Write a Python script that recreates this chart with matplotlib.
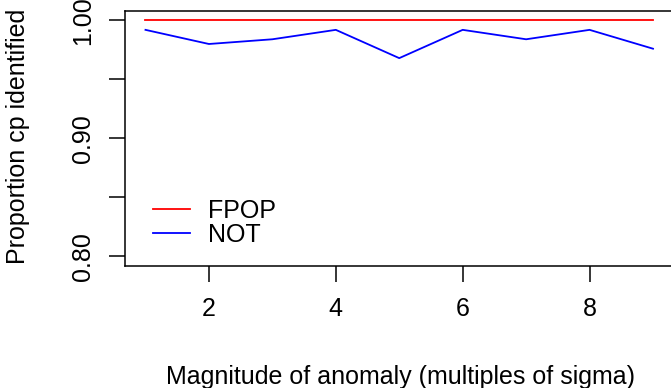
import matplotlib
matplotlib.use("Agg")
import matplotlib.pyplot as plt

magnitude = [1, 2, 3, 4, 5, 6, 7, 8, 9]
fpop = [1.0, 1.0, 1.0, 1.0, 1.0, 1.0, 1.0, 1.0, 1.0]
not_vals = [0.992, 0.980, 0.984, 0.992, 0.968, 0.992, 0.984, 0.992, 0.976]
xticks = [2, 4, 6, 8]
yticks = [0.80, 0.85, 0.90, 0.95, 1.00]
ytick_labels = ["0.80", "", "0.90", "", "1.00"]

plt.rcParams['font.family'] = ['Liberation Sans', 'DejaVu Sans']

W, H = 671, 388
fig = plt.figure(figsize=(W/100, H/100), dpi=100)
left, right, top, bottom = 125, 673.5, 11, 265.5
ax = fig.add_axes([left/W, 1-bottom/H, (right-left)/W, (bottom-top)/H])

ax.plot(magnitude, fpop, color="#FF0000", lw=1.3, label="FPOP")
ax.plot(magnitude, not_vals, color="#0000FF", lw=1.3, label="NOT")

ax.set_xlim(0.677, 9.323)
ax.set_ylim(0.792, 1.008)
ax.set_xticks(xticks)
ax.set_xticklabels([str(t) for t in xticks])
ax.set_yticks(yticks)
ax.set_yticklabels(ytick_labels, rotation=90, va="center")
ax.tick_params(axis="both", labelsize=18, length=11.5, width=1.1, color="black")
ax.tick_params(axis="y", pad=10)
ax.tick_params(axis="x", pad=11.5)
for s in ax.spines.values():
    s.set_linewidth(1.1)
    s.set_color("black")

fig.text(18/W, 1-136/H, "Proportion cp identified", rotation=90, ha="center", va="center", fontsize=18)
fig.text(400/W, 1-384/H, "Magnitude of anomaly (multiples of sigma)", ha="center", va="baseline", fontsize=18)

leg = ax.legend(loc="center left", bbox_to_anchor=(153/W, 1-223/H), bbox_transform=fig.transFigure,
                frameon=False, fontsize=18, handlelength=1.48, handletextpad=0.72,
                labelspacing=0.0, borderpad=0, borderaxespad=0)

fig.savefig("out.png", dpi=100)
